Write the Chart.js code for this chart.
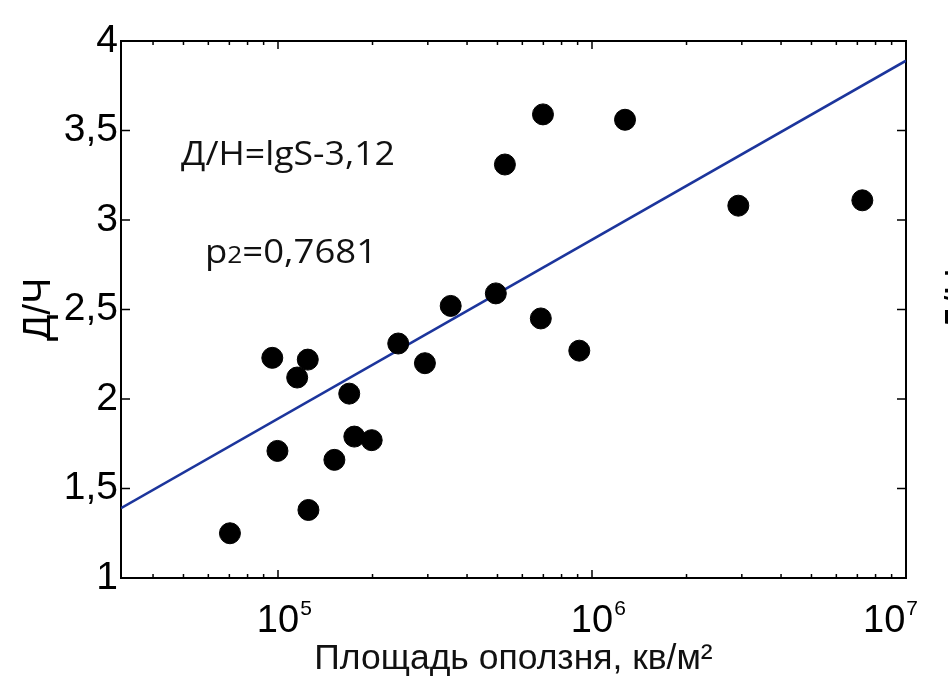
<!DOCTYPE html>
<html>
<head>
<meta charset="utf-8">
<script src="https://cdn.jsdelivr.net/npm/chart.js@4"></script>
<style>
  html, body { margin: 0; padding: 0; background: #fff; }
  #chart { display: block; }
</style>
</head>
<body>
<canvas id="chart" width="948" height="691"></canvas>
<script>
// landslide area (m2) vs Д/Ч
var areas = [70300, 95900, 99600, 115100, 124400, 125000, 151200, 168600, 175000, 198800,
             241500, 293700, 354800, 494000, 528000, 687000, 698000, 911000, 1274000, 2924000, 7260000];
var ratios = [1.25, 2.23, 1.71, 2.12, 2.22, 1.38, 1.66, 2.03, 1.79, 1.77,
              2.31, 2.20, 2.52, 2.59, 3.31, 2.45, 3.59, 2.27, 3.56, 3.08, 3.11];

// regression line end points
var fitX = [31623, 10000000];
var fitY = [1.39, 3.89];

var yTicks = [1, 1.5, 2, 2.5, 3, 3.5, 4];
var yTickLabels = ['1', '1,5', '2', '2,5', '3', '3,5', '4'];
var xTicks = [100000, 1000000, 10000000];
var xTickBase = '10';
var xTickExp = ['5', '6', '7'];

var points = areas.map(function(a, i) { return { x: a, y: ratios[i] }; });
var fitLine = fitX.map(function(x, i) { return { x: x, y: fitY[i] }; });

// draws text pieces [text, font, dy] stretched to a given width
function stretchedText(ctx, pieces, x, y, width) {
    var total = 0;
    pieces.forEach(function(p) { ctx.font = p[1]; total += ctx.measureText(p[0]).width; });
    var sx = width / total;
    ctx.save();
    ctx.translate(x, y);
    ctx.scale(sx, 1);
    var cx = 0;
    pieces.forEach(function(p) {
        ctx.font = p[1];
        ctx.fillText(p[0], cx, p[2] || 0);
        cx += ctx.measureText(p[0]).width;
    });
    ctx.restore();
}

// box, inward ticks, x labels and the annotation texts
var framePlugin = {
    id: 'frame',
    beforeDatasetsDraw: function(chart) {
        var ctx = chart.ctx, a = chart.chartArea;
        var xs = chart.scales.x, ys = chart.scales.y;
        ctx.save();
        ctx.strokeStyle = '#000';
        ctx.lineWidth = 2;
        ctx.strokeRect(a.left, a.top, a.right - a.left, a.bottom - a.top);

        ctx.lineWidth = 1.5;
        ctx.beginPath();
        yTicks.forEach(function(v) {
            var py = ys.getPixelForValue(v);
            ctx.moveTo(a.left, py); ctx.lineTo(a.left + 9, py);
            ctx.moveTo(a.right, py); ctx.lineTo(a.right - 9, py);
        });
        for (var e = 4; e <= 6; e++) {
            for (var m = 1; m <= 9; m++) {
                var v = m * Math.pow(10, e);
                if (v < xs.min) continue;
                var px = xs.getPixelForValue(v);
                var len = (m === 1) ? 8 : 4;
                ctx.moveTo(px, a.bottom); ctx.lineTo(px, a.bottom - len);
                ctx.moveTo(px, a.top); ctx.lineTo(px, a.top + len);
            }
        }
        var pxEnd = xs.getPixelForValue(xs.max);
        ctx.moveTo(pxEnd, a.bottom); ctx.lineTo(pxEnd, a.bottom - 8);
        ctx.stroke();

        // x tick labels as 10 with a raised exponent
        ctx.fillStyle = '#000';
        ctx.textAlign = 'left';
        ctx.textBaseline = 'alphabetic';
        xTicks.forEach(function(v, i) {
            var px = xs.getPixelForValue(v);
            ctx.font = '38px "Liberation Sans"';
            var wb = ctx.measureText(xTickBase).width;
            ctx.font = '21px "Liberation Sans"';
            var we = ctx.measureText(xTickExp[i]).width;
            var left = px - wb / 2;
            if (left + wb + we > chart.width - 31) left = chart.width - 31 - wb - we;
            ctx.font = '38px "Liberation Sans"';
            ctx.fillText(xTickBase, left, a.bottom + 54);
            ctx.font = '21px "Liberation Sans"';
            ctx.fillText(xTickExp[i], left + wb + 1, a.bottom + 37);
        });

        ctx.fillStyle = '#111';
        stretchedText(ctx, [['Д/Н=lgS-3,12', '32px "Open Sans"']], 181, 165, 214);
        stretchedText(ctx, [['р', '32px "Open Sans"'], ['2', '23px "Open Sans"'],
                            ['=0,7681', '32px "Open Sans"']], 205, 263, 172);

        // edge of the neighbouring panel's axis title
        ctx.translate(962, 300);
        ctx.rotate(-Math.PI / 2);
        ctx.font = '38px "Liberation Sans"';
        ctx.textAlign = 'center';
        ctx.textBaseline = 'middle';
        ctx.fillStyle = '#000';
        ctx.fillText('Д/Н', 0, 0);
        ctx.restore();
    }
};

new Chart(document.getElementById('chart').getContext('2d'), {
    type: 'scatter',
    data: {
        datasets: [{
            label: 'data',
            data: points,
            backgroundColor: '#000',
            borderColor: '#000',
            pointRadius: 10.5,
            pointHoverRadius: 10.5
        }, {
            type: 'line',
            label: 'fit',
            data: fitLine,
            borderColor: '#1c359c',
            borderWidth: 2.6,
            pointRadius: 0,
            fill: false,
            tension: 0
        }]
    },
    options: {
        responsive: false,
        animation: false,
        layout: { padding: { top: 41, right: 42, left: 0, bottom: 0 } },
        plugins: {
            legend: { display: false },
            tooltip: { enabled: false }
        },
        scales: {
            x: {
                type: 'logarithmic',
                min: 31623,
                max: 10000000,
                afterFit: function(scale) { scale.height = 113; },
                afterBuildTicks: function(scale) {
                    scale.ticks = xTicks.map(function(v) { return { value: v }; });
                },
                ticks: { display: false },
                grid: { display: false, drawTicks: false },
                border: { display: false },
                title: {
                    display: true,
                    text: 'Площадь оползня, кв/м²',
                    color: '#111',
                    font: { family: 'Liberation Sans', size: 35.5 },
                    padding: { top: 0, bottom: 10 }
                }
            },
            y: {
                type: 'linear',
                min: 1,
                max: 4,
                afterFit: function(scale) { scale.width = 121; },
                afterBuildTicks: function(scale) {
                    scale.ticks = yTicks.map(function(v) { return { value: v }; });
                },
                ticks: {
                    padding: 3,
                    color: '#000',
                    font: { family: 'Liberation Sans', size: 39 },
                    callback: function(value) {
                        var i = yTicks.indexOf(value);
                        return i >= 0 ? yTickLabels[i] : '';
                    }
                },
                grid: { display: false, drawTicks: false },
                border: { display: false },
                title: {
                    display: true,
                    text: 'Д/Ч',
                    color: '#000',
                    font: { family: 'Liberation Sans', size: 39 },
                    padding: { top: 16, bottom: 0 }
                }
            }
        }
    },
    plugins: [framePlugin]
});
</script>
</body>
</html>
